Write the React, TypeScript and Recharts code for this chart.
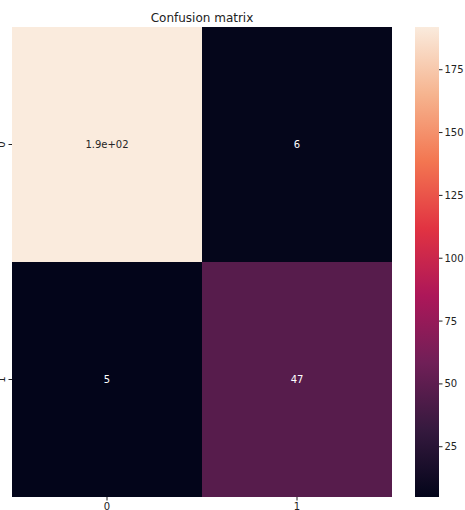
import { BarChart, Bar, XAxis, YAxis, Cell, LabelList } from 'recharts';

const predictedLabels = ['0', '1'];
const actualLabels = ['0', '1'];
const row0Counts = [192, 6];
const row1Counts = [5, 47];
const colorbarTicks = [25, 50, 75, 100, 125, 150, 175];

// seaborn "rocket" colormap anchors
const rocketStops: [number, string][] = [
  [0, '#03051a'],
  [0.143, '#35193e'],
  [0.286, '#701f57'],
  [0.429, '#ad1759'],
  [0.571, '#e13342'],
  [0.714, '#f37651'],
  [0.857, '#f6b48f'],
  [1, '#faebdd'],
];

const allCounts = [...row0Counts, ...row1Counts];
const vmin = Math.min(...allCounts);
const vmax = Math.max(...allCounts);

const hex = (c: string) => [1, 3, 5].map((i) => parseInt(c.slice(i, i + 2), 16));

function rocket(v: number) {
  const t = (v - vmin) / (vmax - vmin);
  for (let i = 1; i < rocketStops.length; i++) {
    const [t1, c1] = rocketStops[i];
    const [t0, c0] = rocketStops[i - 1];
    if (t <= t1) {
      const f = (t - t0) / (t1 - t0);
      const a = hex(c0);
      const b = hex(c1);
      return `rgb(${a.map((x, k) => Math.round(x + (b[k] - x) * f)).join(',')})`;
    }
  }
  return rocketStops[rocketStops.length - 1][1];
}

// like python's '.2g'
function fmtG(v: number) {
  const s = v.toPrecision(2);
  if (s.includes('e')) {
    const [m, e] = s.split('e');
    const sign = e[0];
    const digits = e.slice(1).padStart(2, '0');
    return `${m}e${sign}${digits}`;
  }
  return String(parseFloat(s));
}

const data = predictedLabels.map((p, j) => ({
  predicted: p,
  row0: 1,
  row1: 1,
  v0: row0Counts[j],
  v1: row1Counts[j],
}));

const font = '"DejaVu Sans", sans-serif';

const cellLabel = (key: 'v0' | 'v1') => (props: any) => {
  const { x, y, width, height, index } = props;
  const v = data[index][key];
  const dark = (v - vmin) / (vmax - vmin) < 0.6;
  return (
    <text
      x={x + width / 2}
      y={y + height / 2}
      textAnchor="middle"
      dominantBaseline="central"
      fontSize={10}
      fontFamily={font}
      fill={dark ? '#ffffff' : '#262626'}
    >
      {fmtG(v)}
    </text>
  );
};

const YTick = (props: any) => {
  const { x, y, payload } = props;
  const label = actualLabels[Math.floor(payload.value)];
  return (
    <text
      x={x - 2}
      y={y}
      transform={`rotate(-90 ${x - 2} ${y})`}
      textAnchor="middle"
      fontSize={10}
      fontFamily={font}
      fill="#222"
    >
      {label}
    </text>
  );
};

export default function App() {
  return (
    <div style={{ position: 'absolute', left: 0, top: 0, width: 465, height: 510, background: '#fff' }}>
      <div
        style={{
          position: 'absolute',
          left: 12,
          top: 11,
          width: 380,
          textAlign: 'center',
          fontSize: 12,
          lineHeight: '14px',
          fontFamily: font,
          color: '#222',
        }}
      >
        Confusion matrix
      </div>
      <div style={{ position: 'absolute', left: 0, top: 0 }}>
        <BarChart
          width={400}
          height={510}
          data={data}
          margin={{ top: 27, left: 0, right: 8, bottom: 0 }}
          barCategoryGap={0}
          barGap={0}
        >
          <XAxis
            dataKey="predicted"
            axisLine={false}
            tickSize={3.5}
            tickLine={{ stroke: '#222' }}
            tick={{ fontSize: 10, fontFamily: font, fill: '#222' }}
            height={13}
          />
          <YAxis
            type="number"
            domain={[0, 2]}
            ticks={[0.5, 1.5]}
            reversed
            axisLine={false}
            tickSize={3.5}
            tickLine={{ stroke: '#222' }}
            tick={<YTick />}
            width={12}
          />
          <Bar dataKey="row0" stackId="m" isAnimationActive={false}>
            {data.map((d, i) => (
              <Cell key={i} fill={rocket(d.v0)} />
            ))}
            <LabelList dataKey="v0" content={cellLabel('v0')} />
          </Bar>
          <Bar dataKey="row1" stackId="m" isAnimationActive={false}>
            {data.map((d, i) => (
              <Cell key={i} fill={rocket(d.v1)} />
            ))}
            <LabelList dataKey="v1" content={cellLabel('v1')} />
          </Bar>
        </BarChart>
      </div>
      <div style={{ position: 'absolute', left: 400, top: 0 }}>
        <BarChart
          width={65}
          height={510}
          data={[{ name: 'cb', range: [vmin, vmax] }]}
          margin={{ top: 27, left: 15, right: 0, bottom: 13 }}
          barCategoryGap={0}
        >
          <defs>
            <linearGradient id="rocketGrad" x1="0" y1="0" x2="0" y2="1">
              {[...rocketStops].reverse().map(([t, c]) => (
                <stop key={t} offset={1 - t} stopColor={c} />
              ))}
            </linearGradient>
          </defs>
          <XAxis dataKey="name" hide />
          <YAxis
            type="number"
            orientation="right"
            domain={[vmin, vmax]}
            ticks={colorbarTicks}
            axisLine={false}
            tickSize={3.5}
            tickLine={{ stroke: '#222' }}
            tick={{ fontSize: 10, fontFamily: font, fill: '#222' }}
            width={26}
          />
          <Bar dataKey="range" fill="url(#rocketGrad)" isAnimationActive={false} />
        </BarChart>
      </div>
    </div>
  );
}
